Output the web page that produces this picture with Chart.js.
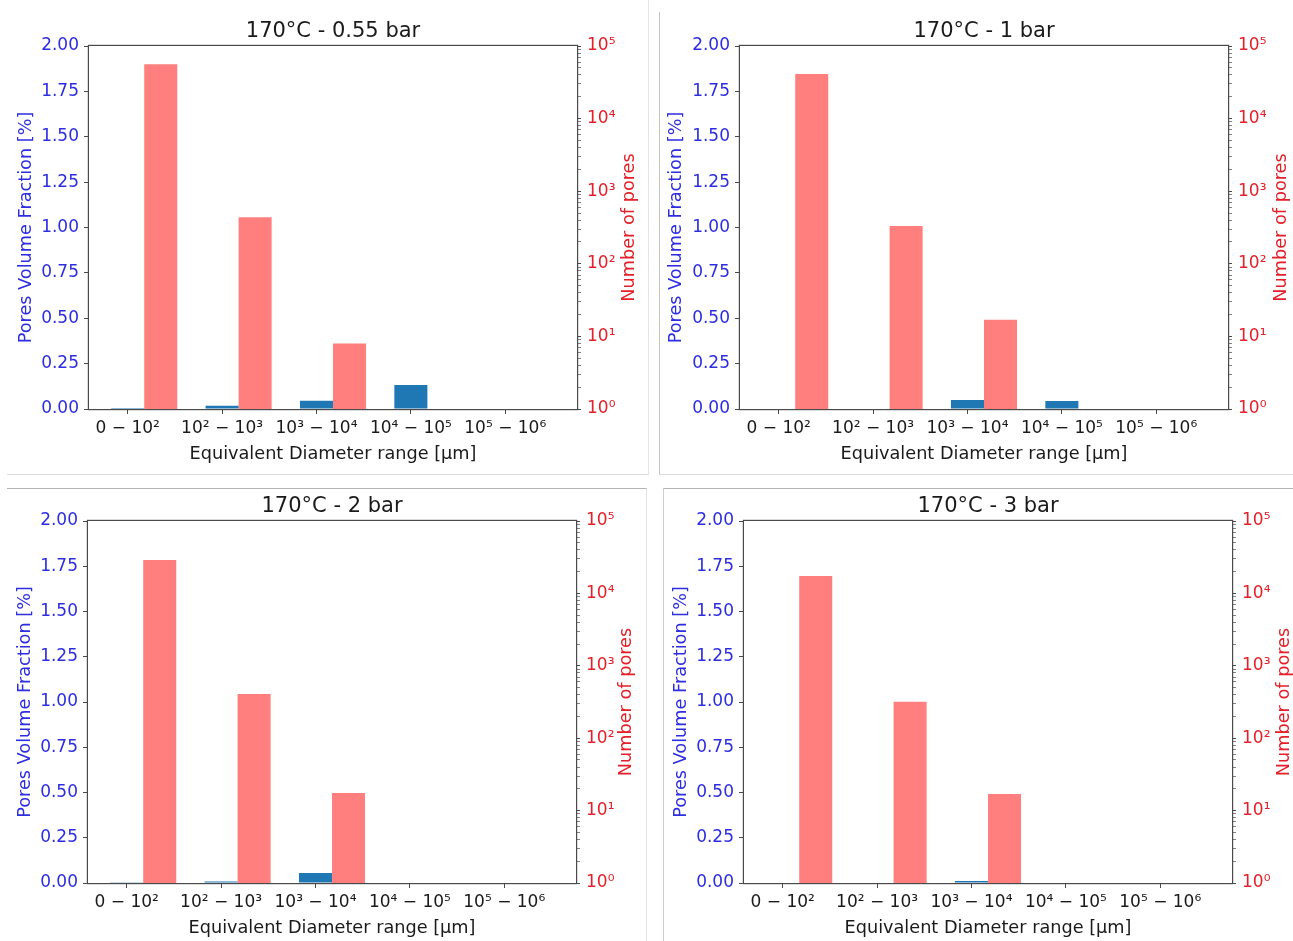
<!DOCTYPE html>
<html>
<head>
<meta charset="utf-8">
<script src="https://cdn.jsdelivr.net/npm/chart.js@4/dist/chart.umd.min.js"></script>
<style>
body { margin: 0; background: #fff; width: 1293px; height: 941px; overflow: hidden; position: relative; }
.frame { position: absolute; box-sizing: border-box; }
canvas { position: absolute; }
</style>
</head>
<body>
<div class="frame" style="left:7px;top:-1px;width:642px;height:476px;border-right:1px solid #e4e4e4;border-bottom:1px solid #dedede"></div>
<div class="frame" style="left:659px;top:12px;width:700px;height:463px;border-left:1px solid #c4c4c4;border-bottom:1px solid #dedede"></div>
<div class="frame" style="left:7px;top:488px;width:640px;height:500px;border-top:1px solid #b4b4b4;border-right:1px solid #e4e4e4"></div>
<div class="frame" style="left:663px;top:488px;width:700px;height:500px;border-top:1px solid #b4b4b4;border-left:1px solid #cfcfcf"></div>
<canvas id="c0"></canvas>
<canvas id="c1"></canvas>
<canvas id="c2"></canvas>
<canvas id="c3"></canvas>
<script>
Chart.defaults.font.family = "'DejaVu Sans', sans-serif";
Chart.defaults.font.size = 17;

// data
const categories = ['0 − 10²', '10² − 10³', '10³ − 10⁴', '10⁴ − 10⁵', '10⁵ − 10⁶'];
const titles = ['170°C - 0.55 bar', '170°C - 1 bar', '170°C - 2 bar', '170°C - 3 bar'];

const volume055 = [0.005, 0.018, 0.046, 0.132, 0];
const volume1 = [0.003, 0.003, 0.050, 0.044, 0];
const volume2 = [0.004, 0.008, 0.055, 0, 0];
const volume3 = [0.003, 0.003, 0.011, 0, 0];

const pores055 = [56000, 437, 8, 0, 0];
const pores1 = [41000, 332, 17, 0, 0];
const pores2 = [29000, 408, 17.5, 0, 0];
const pores3 = [17400, 319, 17, 0, 0];

const volumes = [volume055, volume1, volume2, volume3];
const pores = [pores055, pores1, pores2, pores3];

// where each screenshot sits on the page
const panels = [
    {left: 0, top: 0, width: 648, height: 473, yLeft: 89, yRight: 71, titleTop: 19.4, titleBottom: 1.4, xHeight: 64, leftTitlePad: 15.4, xTitlePad: 8.4, rightTitleGap: 19},
    {left: 660, top: 0, width: 633, height: 473, yLeft: 80, yRight: 65, titleTop: 19.4, titleBottom: 1.4, xHeight: 64, leftTitlePad: 5.9, xTitlePad: 8.4, rightTitleGap: 12},
    {left: 0, top: 489, width: 646, height: 452, yLeft: 88, yRight: 70, titleTop: 5.4, titleBottom: 1.4, xHeight: 58, leftTitlePad: 14.4, xTitlePad: 1.6, rightTitleGap: 20},
    {left: 664, top: 489, width: 629, height: 452, yLeft: 80, yRight: 61, titleTop: 5.4, titleBottom: 1.4, xHeight: 58, leftTitlePad: 6.4, xTitlePad: 1.6, rightTitleGap: 9}
];

const blueText = 'rgb(45,45,225)';
const redText = 'rgb(228,32,42)';
const spine = '#4a4a4a';
const labelFont = {size: 17.7};
const supDigits = ['⁰', '¹', '²', '³', '⁴', '⁵', '⁶'];

// box round the plot, like matplotlib spines, kept just outside the bars
const framePlugin = {
    id: 'frame',
    afterDatasetsDraw(chart){
        let a = chart.chartArea;
        let ctx = chart.ctx;
        ctx.save();
        ctx.strokeStyle = spine;
        ctx.lineWidth = 1.2;
        ctx.strokeRect(Math.round(a.left) - 0.6, Math.round(a.top) - 0.6,
            Math.round(a.right) - Math.round(a.left) + 1.2, Math.round(a.bottom) - Math.round(a.top) + 1.2);
        ctx.restore();
    }
};

// right axis title reads bottom to top in the original
const rightTitlePlugin = {
    id: 'rightTitle',
    afterDraw(chart, args, opts){
        let ctx = chart.ctx;
        let a = chart.chartArea;
        ctx.save();
        ctx.translate(chart.width - opts.gap, (a.top + a.bottom) / 2);
        ctx.rotate(-Math.PI / 2);
        ctx.font = labelFont.size + "px 'DejaVu Sans'";
        ctx.fillStyle = opts.color;
        ctx.textAlign = 'center';
        ctx.textBaseline = 'middle';
        ctx.fillText(opts.text, 0, 0);
        ctx.restore();
    }
};

function makeChart(i){
    let p = panels[i];
    let canvas = document.getElementById('c' + i);
    canvas.width = p.width;
    canvas.height = p.height;
    canvas.style.left = p.left + 'px';
    canvas.style.top = p.top + 'px';
    canvas.style.width = p.width + 'px';
    canvas.style.height = p.height + 'px';

    let idx = categories.map(function(c, k){ return k; });
    let config = {
        type: 'bar',
        data: {
            labels: idx,
            datasets: [{
                // empty slot so the blue bar sits on the tick and the red one to its right
                label: '',
                data: idx.map(function(){ return null; }),
                yAxisID: 'y'
            }, {
                label: 'Pores Volume Fraction',
                data: volumes[i],
                backgroundColor: '#1f77b4',
                yAxisID: 'y'
            }, {
                label: 'Number of pores',
                data: pores[i],
                backgroundColor: 'rgba(255, 0, 0, 0.5)',
                yAxisID: 'y1'
            }]
        },
        options: {
            responsive: false,
            animation: false,
            devicePixelRatio: 1,
            events: [],
            categoryPercentage: 1.05,
            barPercentage: 1,
            layout: {padding: 0},
            plugins: {
                legend: {display: false},
                tooltip: {enabled: false},
                title: {
                    display: true,
                    text: titles[i],
                    fullSize: false,
                    color: '#1a1a1a',
                    font: {size: 21, weight: 'normal'},
                    padding: {top: p.titleTop, bottom: p.titleBottom}
                },
                rightTitle: {text: 'Number of pores', color: redText, gap: p.rightTitleGap}
            },
            scales: {
                x: {
                    type: 'linear',
                    min: -0.41,
                    max: 4.76,
                    offset: false,
                    afterBuildTicks: function(s){
                        s.ticks = idx.map(function(k){ return {value: k}; });
                    },
                    afterFit: function(s){ s.height = p.xHeight; },
                    grid: {drawOnChartArea: false, drawTicks: true, tickLength: 5, color: spine, offset: false},
                    border: {display: false},
                    ticks: {
                        autoSkip: false,
                        maxRotation: 0,
                        padding: 4,
                        color: '#1a1a1a',
                        callback: function(v){ return categories[v]; }
                    },
                    title: {
                        display: true,
                        text: 'Equivalent Diameter range [μm]',
                        color: '#1a1a1a',
                        font: labelFont,
                        padding: {top: 0, bottom: p.xTitlePad}
                    }
                },
                y: {
                    type: 'linear',
                    position: 'left',
                    min: 0,
                    max: 2,
                    afterFit: function(s){ s.width = p.yLeft; },
                    grid: {drawOnChartArea: false, drawTicks: true, tickLength: 5, color: spine},
                    border: {display: false},
                    ticks: {
                        stepSize: 0.25,
                        padding: 5,
                        color: blueText,
                        callback: function(v){ return v.toFixed(2); }
                    },
                    title: {
                        display: true,
                        text: 'Pores Volume Fraction [%]',
                        color: blueText,
                        font: labelFont,
                        padding: {top: p.leftTitlePad, bottom: 0}
                    }
                },
                y1: {
                    type: 'logarithmic',
                    position: 'right',
                    min: 1,
                    max: 100000,
                    afterFit: function(s){ s.width = p.yRight; },
                    afterBuildTicks: function(s){
                        let t = [];
                        for(let e = 0; e <= 5; e++){
                            for(let k = 1; k <= 9; k++){
                                let v = k * Math.pow(10, e);
                                if(v <= 100000){
                                    t.push({value: v, major: k === 1});
                                }
                            }
                        }
                        s.ticks = t;
                    },
                    grid: {
                        drawOnChartArea: false,
                        drawTicks: true,
                        tickLength: 4,
                        color: spine,
                        tickWidth: function(ctx){ return ctx.tick && ctx.tick.major ? 1 : 0.7; }
                    },
                    border: {display: false},
                    ticks: {
                        autoSkip: false,
                        padding: 6,
                        color: redText,
                        callback: function(v){
                            let e = Math.round(Math.log10(v));
                            if(Math.pow(10, e) === v){
                                return '10' + supDigits[e];
                            }
                            return '';
                        }
                    }
                }
            }
        },
        plugins: [framePlugin, rightTitlePlugin]
    };
    return new Chart(canvas.getContext('2d'), config);
}

for(let i = 0; i < panels.length; i++){
    makeChart(i);
}
</script>
</body>
</html>
